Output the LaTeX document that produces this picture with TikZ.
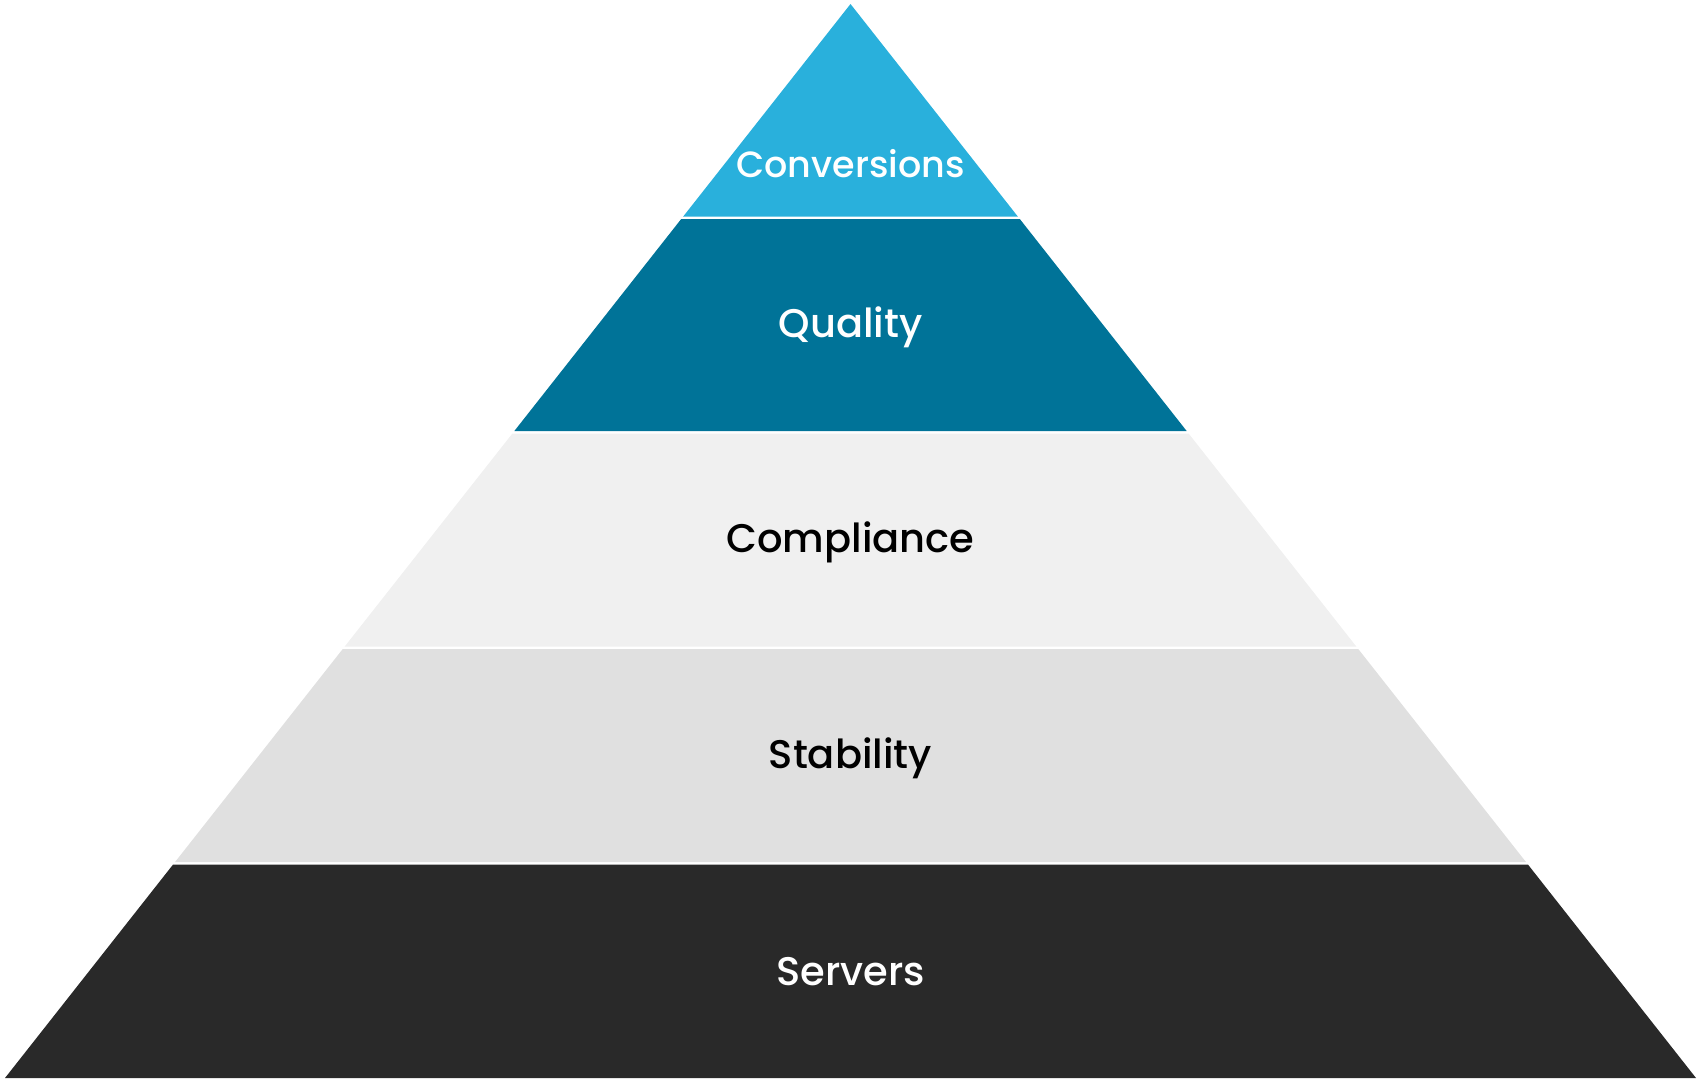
\documentclass[tikz,border=0pt]{standalone}
\usepackage{fontspec}
\setmainfont{Poppins}[UprightFont=* Medium]
\definecolor{convBlue}{RGB}{41,176,220}
\definecolor{qualTeal}{RGB}{0,115,152}
\definecolor{complGray}{RGB}{240,240,240}
\definecolor{stabGray}{RGB}{224,224,224}
\definecolor{servDark}{RGB}{41,41,41}
\tikzset{
	layertext/.style={inner sep=0.75pt, font=\fontsize{40}{46}\selectfont},
	toptext/.style={inner sep=0.75pt, font=\fontsize{36.5}{42}\selectfont},
}
\begin{document}
\begin{tikzpicture}[x=1pt,y=1pt,yscale=-1,xscale=1]
	\useasboundingbox (0,0) rectangle (1702,1080);

	%Shape: Triangle [id:conversions]
	\fill [convBlue] (850.5,4) -- (1017.8,216.5) -- (683.2,216.5) -- cycle ;
	%Shape: Trapezoid [id:quality]
	\fill [qualTeal] (681.2,219) -- (1019.8,219) -- (1186.65,431) -- (514.35,431) -- cycle ;
	%Shape: Trapezoid [id:compliance]
	\fill [complGray] (512.38,433.5) -- (1188.62,433.5) -- (1356.3,646.5) -- (344.7,646.5) -- cycle ;
	%Shape: Trapezoid [id:stability]
	\fill [stabGray] (342.73,649) -- (1358.27,649) -- (1525.95,862) -- (175.05,862) -- cycle ;
	%Shape: Trapezoid [id:servers]
	\fill [servDark] (173.08,864.5) -- (1527.92,864.5) -- (1696,1078) -- (5,1078) -- cycle ;

	% Text Node
	\node (conv) [toptext, text=white] at (850.5,164) {Conversions};
	% Text Node
	\node (qual) [layertext, text=white] at (850.5,327) {Quality};
	% Text Node
	\node (compl) [layertext, text=black] at (850.5,542) {Compliance};
	% Text Node
	\node (stab) [layertext, text=black] at (850.5,758) {Stability};
	% Text Node
	\node (serv) [layertext, text=white] at (850.5,972) {Servers};
\end{tikzpicture}
\end{document}
